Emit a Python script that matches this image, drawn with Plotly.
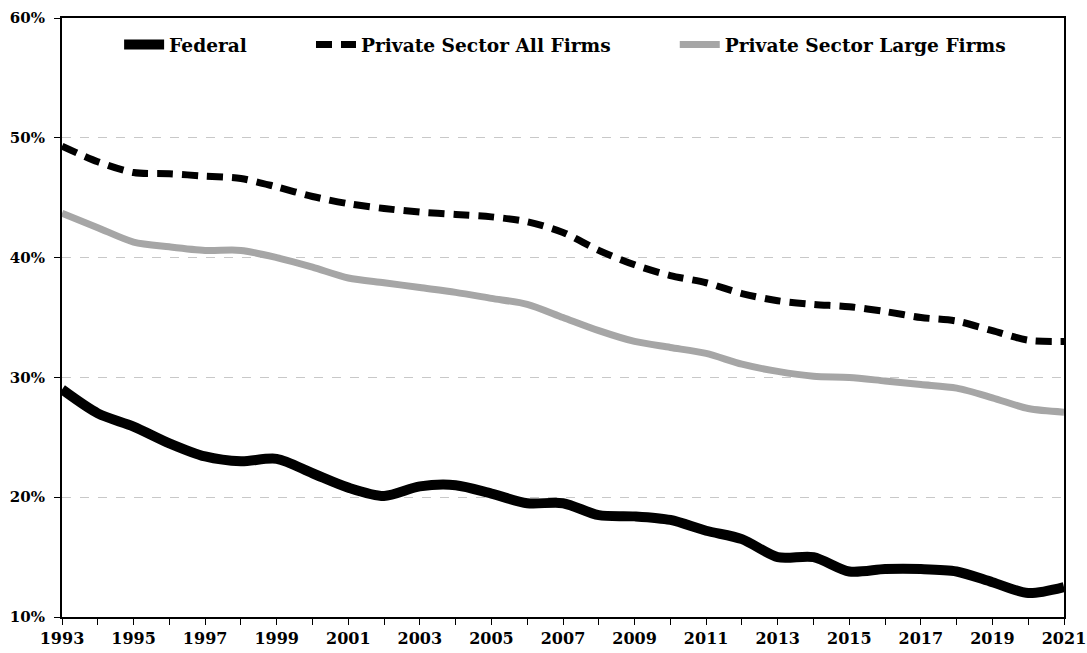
import plotly.graph_objects as go

years = list(range(1993, 2022))
federal = [29.0, 27.0, 25.9, 24.5, 23.4, 23.0, 23.2, 22.0, 20.8, 20.1, 20.9, 21.0, 20.3, 19.5,
           19.5, 18.5, 18.4, 18.1, 17.2, 16.5, 15.0, 15.0, 13.8, 14.0, 14.0, 13.8, 12.9, 12.0, 12.5]
private_all = [49.3, 48.0, 47.1, 47.0, 46.8, 46.6, 45.9, 45.1, 44.5, 44.1, 43.8, 43.6, 43.4, 43.0,
               42.1, 40.6, 39.4, 38.5, 37.9, 37.0, 36.4, 36.1, 35.9, 35.5, 35.0, 34.7, 33.9, 33.1, 33.0]
private_large = [43.7, 42.5, 41.3, 40.9, 40.6, 40.6, 40.0, 39.2, 38.3, 37.9, 37.5, 37.1, 36.6, 36.1,
                 35.0, 33.9, 33.0, 32.5, 32.0, 31.1, 30.5, 30.1, 30.0, 29.7, 29.4, 29.1, 28.3, 27.4, 27.1]
series_names = ["Federal", "Private Sector All Firms", "Private Sector Large Firms"]
tick_years = list(range(1993, 2022, 2))
y_ticks = [10, 20, 30, 40, 50, 60]

font_family = "DejaVu Serif"
pad = "&nbsp;" * 10

fig = go.Figure()
fig.add_trace(go.Scatter(x=years, y=federal, name=f"<b>{series_names[0]}</b>{pad}", mode="lines",
                         line=dict(color="black", width=10, shape="spline", smoothing=0.8)))
fig.add_trace(go.Scatter(x=years, y=private_all, name=f"<b>{series_names[1]}</b>{pad}", mode="lines",
                         line=dict(color="black", width=7, dash="16px,9px", shape="spline", smoothing=0.8)))
fig.add_trace(go.Scatter(x=years, y=private_large, name=f"<b>{series_names[2]}</b>", mode="lines",
                         line=dict(color="#a6a6a6", width=7, shape="spline", smoothing=0.8)))

fig.update_layout(
    width=1087, height=653,
    margin=dict(l=62, r=23, t=18, b=36),
    plot_bgcolor="white", paper_bgcolor="white",
    font=dict(family=font_family, color="black", size=16),
    showlegend=True,
    legend=dict(orientation="h", x=0.057, y=0.955, xanchor="left", yanchor="middle",
                font=dict(size=18.6, family=font_family), bgcolor="rgba(0,0,0,0)",
                itemwidth=40, tracegroupgap=0),
    xaxis=dict(range=[1993, 2021], tickvals=tick_years,
               ticktext=[f"<b>{y}</b>" for y in tick_years],
               ticks="outside", ticklen=6, tickcolor="black", tickwidth=1,
               minor=dict(dtick=1, tick0=1993, ticks="outside", ticklen=6, tickcolor="black"),
               showline=True, linecolor="black", linewidth=2, mirror=True,
               showgrid=False, zeroline=False, tickfont=dict(size=16), automargin=False),
    yaxis=dict(range=[10, 60], tickvals=y_ticks,
               ticktext=[f"<b>{v}%</b>" for v in y_ticks],
               ticks="outside", ticklen=6, tickcolor="black", ticklabelstandoff=6,
               showline=True, linecolor="black", linewidth=2, mirror=True,
               showgrid=True, gridcolor="#c8c8c8", gridwidth=1, griddash="dash",
               zeroline=False, tickfont=dict(size=15), automargin=False),
)

fig.write_html("out.html", config={"displayModeBar": False},
               post_script="document.body.style.margin='0';document.body.style.overflow='hidden';")
